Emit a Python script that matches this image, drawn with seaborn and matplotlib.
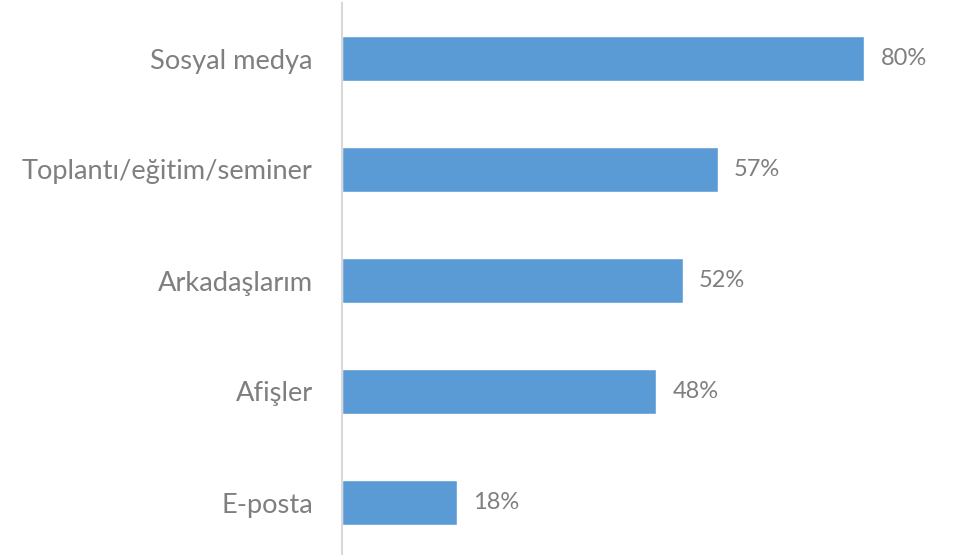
import numpy as np
import matplotlib.pyplot as plt
import pandas as pd
import seaborn as sns

# data
categories = ['Sosyal medya', 'Toplantı/eğitim/seminer', 'Arkadaşlarım', 'Afişler', 'E-posta']
values = [79.8, 57.4, 52.1, 48.0, 17.6]

df = pd.DataFrame({'Kaynak': categories, 'Oran': values})

sns.set_style('white')
plt.rcParams['font.family'] = ['Lato', 'DejaVu Sans']

bar_color = '#5B9BD5'
text_color = '#7F7F7F'

fig = plt.figure(figsize=(9.64, 5.55), dpi=100)
ax = fig.add_axes([342 / 964, -3 / 555, 622 / 964, 1.0])

sns.barplot(data=df, x='Oran', y='Kaynak', orient='h', color=bar_color,
            width=0.4, saturation=1, ax=ax)

ax.set_xlim(0, 95)
ax.set_ylim(4.5, -0.5)
ax.set_xlabel('')
ax.set_ylabel('')
ax.set_xticks([])
ax.tick_params(axis='y', length=0, pad=21, labelsize=19.6, labelcolor=text_color)

for s in ['top', 'right', 'bottom']:
    ax.spines[s].set_visible(False)
ax.spines['left'].set_color('#D9D9D9')
ax.spines['left'].set_linewidth(1.5)

# data labels
for i, v in enumerate(values):
    ax.annotate(f'{v:.0f}%', xy=(v, i), xytext=(16, 0), textcoords='offset pixels',
                va='center', ha='left', fontsize=17, color=text_color)

fig.savefig('out.png', dpi=100)
